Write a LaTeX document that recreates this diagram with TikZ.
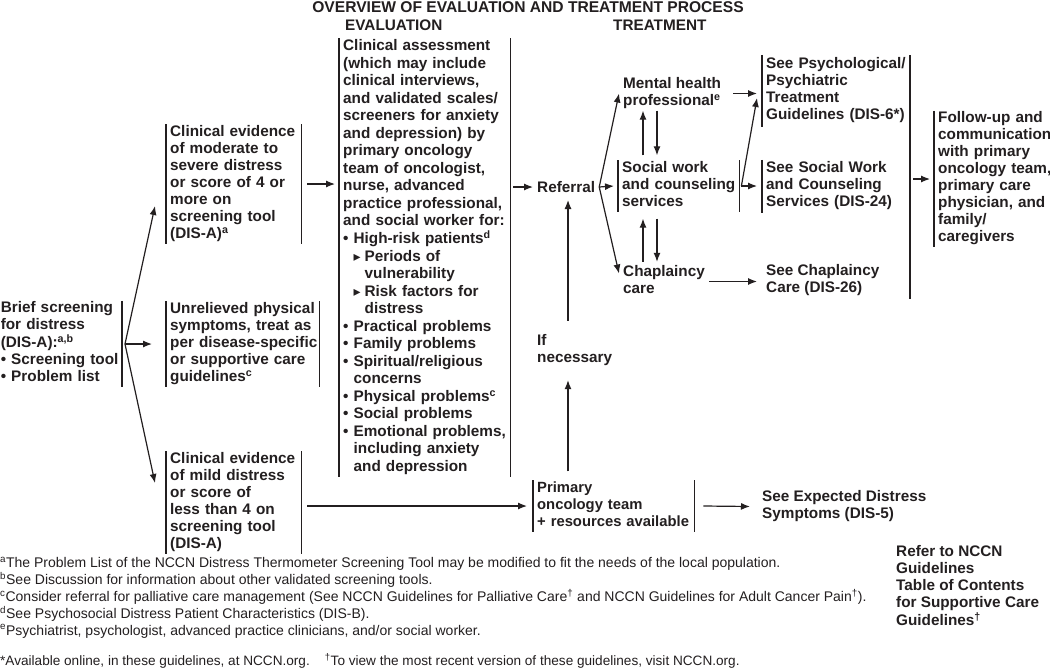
\documentclass[tikz,border=0pt]{standalone}
\usepackage{fontspec}
\setmainfont{Liberation Sans}
\newfontfamily\djv{DejaVu Sans}
\usetikzlibrary{arrows.meta}
\definecolor{ink}{HTML}{231F20}
\newcommand\mytab[1]{\begin{tabular}{@{}l@{}}#1\end{tabular}}
\newcommand\bfs{\fontsize{15.3}{17}\selectfont\bfseries}
\newcommand\bfa{\fontsize{15.3}{17.5}\selectfont\bfseries}
\newcommand\bfp{\fontsize{14.8}{17}\selectfont\bfseries}
\newcommand\ftn{\fontsize{14}{16.2}\selectfont}
\newcommand\tri{\makebox[11pt][l]{\djv\fontsize{14}{14}\selectfont ▸}}
\newcommand\bul{\phantom{• }}
\begin{document}
\begin{tikzpicture}[x=1pt,y=-1pt,
  every node/.style={text=ink},
  box/.style={inner xsep=4pt, inner ysep=0pt, align=left, anchor=west, font=\bfs},
  plain/.style={inner xsep=4pt, inner ysep=0pt, align=left, anchor=west, font=\bfs},
  barline/.style={draw=ink, line width=1.5pt},
  arr/.style={draw=ink, line width=1.2pt, -{Latex[length=9pt,width=7pt]}},
]
\fill[white] (0,0) rectangle (1050,667);
\useasboundingbox (0,0) rectangle (1050,667);

% headings
\node[font=\fontsize{15.6}{17}\selectfont\bfseries, inner sep=0pt] (title) at (528,7) {OVERVIEW OF EVALUATION AND TREATMENT PROCESS};
\node[plain, inner xsep=0pt] (hev) at (345,25) {EVALUATION};
\node[plain, inner xsep=0pt] (htr) at (613,25) {TREATMENT};

% left column
\node[box, anchor=east, text width=117pt, minimum height=82pt] (brief) at (122,344)
  {\mytab{Brief screening\\ for distress\\ (DIS-A):\textsuperscript{a,b}\\ • Screening tool\\ • Problem list}};
\node[box, text width=127pt, minimum height=118pt] (box2) at (166,184)
  {\mytab{Clinical evidence\\ of moderate to\\ severe distress\\ or score of 4 or\\ more on\\ screening tool\\ (DIS-A)\textsuperscript{a}}};
\node[box, text width=145pt, minimum height=82pt] (box3) at (166,344)
  {\mytab{Unrelieved physical\\ symptoms, treat as\\ per disease-specific\\ or supportive care\\ guidelines\textsuperscript{c}}};
\node[box, text width=127pt, minimum height=101pt] (box4) at (166,502.5)
  {\mytab{Clinical evidence\\ of mild distress\\ or score of\\ less than 4 on\\ screening tool\\ (DIS-A)}};

% assessment
\node[box, font=\bfa, text width=163pt, minimum height=435pt] (assess) at (339,257.5)
  {\mytab{Clinical assessment\\ (which may include\\ clinical interviews,\\ and validated scales/\\ screeners for anxiety\\ and depression) by\\ primary oncology\\ team of oncologist,\\ nurse, advanced\\ practice professional,\\ and social worker for:\\
  • High-risk patients\textsuperscript{d}\\ \bul\tri Periods of\\ \bul\hspace*{11pt}vulnerability\\ \bul\tri Risk factors for\\ \bul\hspace*{11pt}distress\\
  • Practical problems\\ • Family problems\\ • Spiritual/religious\\ \bul concerns\\ • Physical problems\textsuperscript{c}\\ • Social problems\\ • Emotional problems,\\ \bul including anxiety\\ \bul and depression}};

% treatment
\node[plain] (referral) at (533,187) {Referral};
\node[plain] (mh) at (619,93.5) {\mytab{Mental health\\ professional\textsuperscript{e}}};
\node[box, text width=113pt, minimum height=48pt] (sw) at (618,186) {\mytab{Social work\\ and counseling\\ services}};
\node[plain] (chap) at (619,281.5) {\mytab{Chaplaincy\\ care}};
\node[plain] (ifnec) at (533,350.5) {\mytab{If\\ necessary}};
\node[box, font=\bfp, text width=153pt, minimum height=50pt] (primary) at (533,506) {\mytab{Primary\\ oncology team\\ + resources available}};

\node[box, text width=140pt, minimum height=72pt] (psych) at (762,91) {\mytab{See Psychological/\\ Psychiatric\\ Treatment\\ Guidelines (DIS-6*)}};
\node[box, text width=140pt, minimum height=53pt] (swsvc) at (762,186.5) {\mytab{See Social Work\\ and Counseling\\ Services (DIS-24)}};
\node[plain] (seechap) at (762,280.5) {\mytab{See Chaplaincy\\ Care (DIS-26)}};
\node[inner sep=0pt, minimum width=0pt, minimum height=244pt, anchor=north] (bigbar) at (910,55) {};
\node[box, text width=110pt, minimum height=132pt] (follow) at (934,179) {\mytab{Follow-up and\\ communication\\ with primary\\ oncology team,\\ primary care\\ physician, and\\ family/\\ caregivers}};
\node[plain] (seeexp) at (758,506.5) {\mytab{See Expected Distress\\ Symptoms (DIS-5)}};
\node[plain] (refer) at (892,588) {\mytab{Refer to NCCN\\ Guidelines\\ Table of Contents\\ for Supportive Care\\ Guidelines\textsuperscript{†}}};

% footnotes
\node[plain, inner xsep=0pt, font=\ftn] (fn) at (0,598) {\begin{tabular}{@{}l@{}}\textsuperscript{a}The Problem List of the NCCN Distress Thermometer Screening Tool may be modified to fit the needs of the local population.\\
\textsuperscript{b}See Discussion for information about other validated screening tools.\\
\textsuperscript{c}Consider referral for palliative care management (See NCCN Guidelines for Palliative Care\textsuperscript{†} and NCCN Guidelines for Adult Cancer Pain\textsuperscript{†}).\\
\textsuperscript{d}See Psychosocial Distress Patient Characteristics (DIS-B).\\
\textsuperscript{e}Psychiatrist, psychologist, advanced practice clinicians, and/or social worker.\end{tabular}};
\node[plain, inner xsep=0pt, font=\fontsize{13.6}{15}\selectfont] (web) at (0,661) {*Available online, in these guidelines, at NCCN.org.\hspace{15pt}\textsuperscript{†}To view the most recent version of these guidelines, visit NCCN.org.};

% bars
\foreach \n in {box2,box3,box4,assess,sw,primary}
  {\draw[barline] (\n.north west) -- (\n.south west) (\n.north east) -- (\n.south east);}
\foreach \n in {psych,swsvc,follow}
  {\draw[barline] (\n.north west) -- (\n.south west);}
\draw[barline] (brief.north east) -- (brief.south east);
\draw[barline] (bigbar.north) -- (bigbar.south);

% connectors
\coordinate (bp) at ([xshift=3pt]brief.east);
\draw[arr] (bp) -- ([xshift=-11pt,yshift=-22pt]box2.west);
\draw[arr] (bp) -- ([xshift=-14pt]box3.west);
\draw[arr] (bp) -- ([xshift=-11pt,yshift=19.5pt]box4.west);
\draw[arr] ([xshift=6pt]box2.east) -- ([xshift=-4pt]assess.west |- box2.east);
\draw[arr] ([xshift=6pt]box4.east |- primary.west) -- ([xshift=-6pt]primary.west);
\draw[arr] ([xshift=3pt]assess.east |- referral.west) -- (referral.west);
\coordinate (rp) at (referral.east);
\draw[arr] (rp) -- (mh.west);
\draw[arr] (rp) -- ([xshift=-4pt]sw.west);
\draw[arr] (rp) -- ([yshift=8pt]chap.west);
\draw[arr] ([xshift=25pt,yshift=5pt]sw.north west) -- ([xshift=24pt]mh.south west);
\draw[arr] ([xshift=38pt]mh.south west) -- ([xshift=39pt,yshift=5pt]sw.north west);
\draw[arr] ([xshift=24pt,yshift=2.5pt]chap.north west) -- ([xshift=25pt,yshift=-7pt]sw.south west);
\draw[arr] ([xshift=39pt,yshift=-7pt]sw.south west) -- ([xshift=38pt,yshift=2.5pt]chap.north west);
\draw[arr] ([xshift=8pt]mh.east) -- ([xshift=-5pt]psych.west |- mh.east);
\draw[arr] ([xshift=2pt]sw.east) -- ([xshift=-5pt]swsvc.west |- sw.east);
\draw[arr] ([xshift=2pt]sw.east) -- ([xshift=-5pt,yshift=-7pt]psych.west);
\draw[arr] (chap.east) -- ([xshift=-5pt]seechap.west |- chap.east);
\draw[arr] ([xshift=3pt]bigbar.center |- follow.west) -- ([xshift=-4pt]follow.west);
\draw[arr] ([xshift=35pt,yshift=9pt]primary.north west) -- ([xshift=35pt,yshift=-12.5pt]ifnec.south west);
\draw[arr] ([xshift=35pt,yshift=12.5pt]ifnec.north west) -- ([xshift=35pt]referral.south west |- 0,200);
\draw[arr] ([xshift=9pt]primary.east) -- ([xshift=-8pt]seeexp.west);
\end{tikzpicture}
\end{document}
